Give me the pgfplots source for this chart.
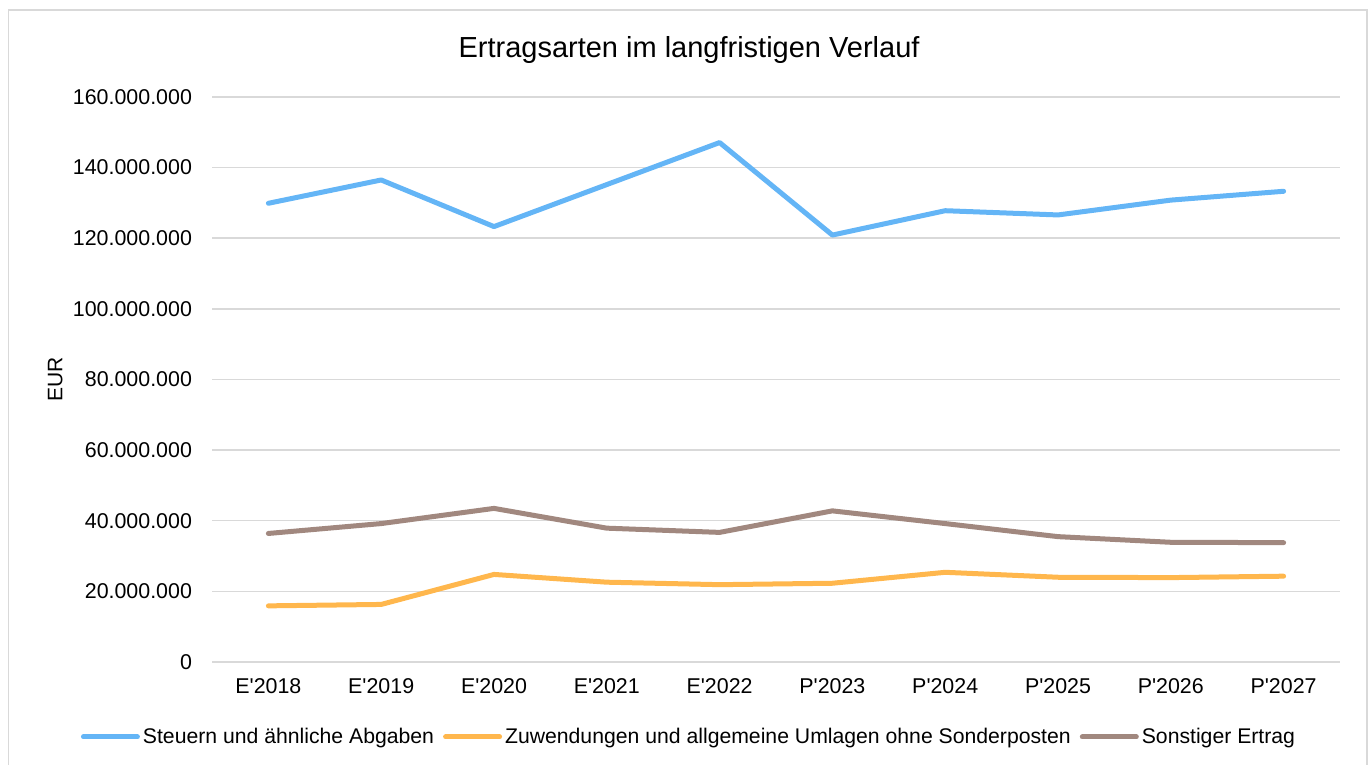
\documentclass[border=0pt]{standalone}
\usepackage{fontspec}
\setmainfont{Liberation Sans}
\newfontfamily\plainarial{Liberation Sans}
\usepackage{pgfplots}
\usepackage{pgfplotstable}
\pgfplotsset{compat=1.18}
\definecolor{steuern}{HTML}{64B5F6}
\definecolor{zuwend}{HTML}{FFB74D}
\definecolor{sonst}{HTML}{A1887F}
\definecolor{gridgray}{HTML}{D9D9D9}

% Ertraege in EUR, Spalte idx = Jahr (E'2018 ... P'2027)
\pgfplotstableread{
idx steuern   zuwend   sonst
0   129900000 15900000 36400000
1   136500000 16300000 39200000
2   123300000 24800000 43500000
3   135200000 22600000 37900000
4   147100000 21900000 36700000
5   120900000 22300000 42800000
6   127800000 25400000 39200000
7   126600000 24000000 35500000
8   130800000 23900000 33900000
9   133300000 24300000 33800000
}\ertrag

\begin{document}
\begin{tikzpicture}
\path[use as bounding box] (0,0) rectangle (685bp,382.5bp);
\draw[gridgray, line width=0.75bp] (4.25bp,0) -- (4.25bp,377.5bp) -- (683.5bp,377.5bp) -- (683.5bp,0);
\begin{axis}[
    at={(106bp,51.5bp)}, anchor=south west,
    scale only axis, width=564bp, height=282.5bp,
    xmin=-0.5, xmax=9.5,
    ymin=0, ymax=160000000,
    xtick={0,...,9},
    xticklabels={E'2018,E'2019,E'2020,E'2021,E'2022,P'2023,P'2024,P'2025,P'2026,P'2027},
    ytick={0,20000000,...,160000000},
    scaled y ticks=false,
    axis lines=left,
    axis line style={draw=none},
    major tick length=0pt,
    ymajorgrids=true,
    grid style={gridgray, line width=0.75bp},
    tick label style={font=\plainarial\fontsize{10.7bp}{12bp}\selectfont, text=black},
    xticklabel style={yshift=-5bp},
    yticklabel style={xshift=-6.5bp, /pgf/number format/.cd, fixed, precision=0, 1000 sep={.}, assume math mode=true},
    ylabel={EUR},
    ylabel style={at={(axis description cs:-0.139,0.5)}, anchor=center, font=\fontsize{10.5bp}{12bp}\selectfont},
    title={Ertragsarten im langfristigen Verlauf},
    title style={at={(axis description cs:0.4229,1.0495)}, anchor=base, font=\fontsize{14.5bp}{17bp}\selectfont},
    legend columns=3,
    legend style={at={(axis description cs:0.4233,-0.1327)}, anchor=center, draw=none, fill=none,
        font=\fontsize{10.6bp}{12bp}\selectfont, inner sep=0pt,
        nodes={inner sep=1.5bp},
        /tikz/every even column/.append style={column sep=3bp}},
    legend image code/.code={\draw[#1, line cap=round] (0bp,0bp) -- (27bp,0bp);},
    every axis plot/.append style={line width=2.5bp, line cap=round, line join=round, mark=none},
]
\addplot[steuern] table[x=idx, y=steuern] {\ertrag};
\addlegendentry{Steuern und ähnliche Abgaben}
\addplot[zuwend] table[x=idx, y=zuwend] {\ertrag};
\addlegendentry{Zuwendungen und allgemeine Umlagen ohne Sonderposten}
\addplot[sonst] table[x=idx, y=sonst] {\ertrag};
\addlegendentry{Sonstiger Ertrag}
\end{axis}
\end{tikzpicture}
\end{document}
